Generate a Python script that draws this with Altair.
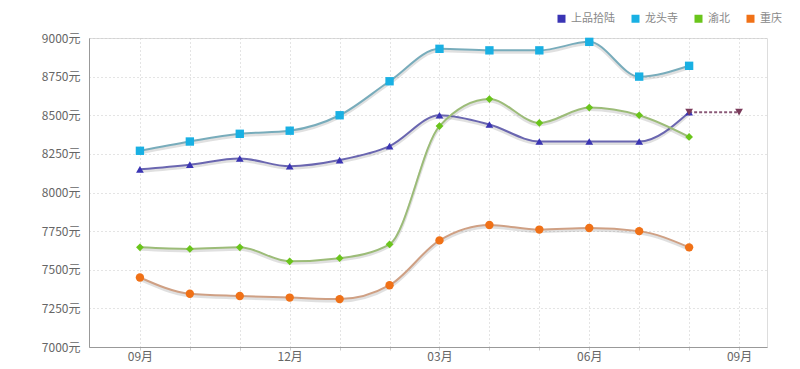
import altair as alt
import pandas as pd

months = list(range(13))
month_labels = ["09月", "", "", "12月", "", "", "03月", "", "", "06月", "", "", "09月"]
series = ["上品拾陆", "龙头寺", "渝北", "重庆"]

v_sp = [8150, 8180, 8220, 8170, 8210, 8300, 8500, 8440, 8330, 8330, 8330, 8520]
v_lts = [8270, 8330, 8380, 8400, 8500, 8720, 8930, 8920, 8920, 8975, 8750, 8820]
v_yb = [7645, 7635, 7645, 7555, 7575, 7665, 8430, 8605, 8450, 8550, 8500, 8360]
v_cq = [7450, 7345, 7330, 7320, 7310, 7400, 7690, 7790, 7760, 7770, 7750, 7645]

pred_x = [11, 12]
pred_v = [8520, 8520]

marker_colors = ["#3a34b4", "#19b0e3", "#6ac51b", "#f07117"]
line_colors = ["#6a66b0", "#78acbb", "#9cbc78", "#cfa084"]
shapes = ["triangle-up", "square", "diamond", "circle"]
sizes = [60, 70, 60, 70]

rows = []
for name, vals in zip(series, [v_sp, v_lts, v_yb, v_cq]):
    for i, v in enumerate(vals):
        rows.append({"m": i, "series": name, "v": v})
df = pd.DataFrame(rows)
pred = pd.DataFrame({"m": pred_x, "v": pred_v})

label_expr = "[" + ",".join("'%s'" % s for s in month_labels) + "][datum.value]"

x = alt.X("m:Q", scale=alt.Scale(domain=[-1.02, 12.56], nice=False, zero=False),
          axis=alt.Axis(values=months, labelExpr=label_expr, title=None, grid=True,
                        gridDash=[1, 3], gridColor="#c8c8c8", domainColor="#999999",
                        tickColor="#cccccc", tickSize=3, labelColor="#666666",
                        labelFontSize=12, labelPadding=1))
y = alt.Y("v:Q", scale=alt.Scale(domain=[7000, 9000], nice=False, zero=False),
          axis=alt.Axis(values=list(range(7000, 9001, 250)), labelExpr="datum.value + '元'",
                        title=None, grid=True, gridDash=[1, 3], gridColor="#c8c8c8",
                        domainColor="#999999", tickSize=0, labelColor="#666666",
                        labelFontSize=12, labelPadding=9))

base = alt.Chart(df)

layers = []
for name, lc in zip(series, line_colors):
    sub = base.transform_filter(alt.datum.series == name)
    layers.append(sub.mark_line(interpolate="monotone", strokeWidth=3, opacity=0.18,
                                yOffset=2, color="#555555").encode(x=x, y=y))
    layers.append(sub.mark_line(interpolate="monotone", strokeWidth=2, color=lc).encode(x=x, y=y))

layers.append(alt.Chart(pred).mark_line(strokeDash=[3, 2], strokeWidth=2, color="#8a5a78").encode(
    x=x, y=y))

legend = alt.Legend(title=None, orient="none", direction="horizontal",
                    legendX=467, legendY=-25, symbolType="square",
                    symbolSize=64, labelFontSize=11, labelColor="#888888",
                    columnPadding=15, labelOffset=4)
color = alt.Color("series:N", scale=alt.Scale(domain=series, range=marker_colors), legend=legend)

for name, shp, sz in zip(series, shapes, sizes):
    layers.append(base.transform_filter(alt.datum.series == name)
                  .mark_point(filled=True, opacity=1, size=sz, shape=shp)
                  .encode(x=x, y=y, color=color))

layers.append(alt.Chart(pred).mark_point(filled=True, shape="triangle-down", size=60,
                                         color="#7b3b5b", opacity=1).encode(x=x, y=y))

chart = alt.layer(*layers).properties(
    width=678, height=309,
    autosize=alt.AutoSizeParams(type="none"),
    padding={"left": 81, "top": 30, "right": 25, "bottom": 16},
).configure_view(stroke=None).configure(font="Noto Sans CJK SC")

chart.save("out.html", embed_options={"renderer": "svg", "actions": False})
